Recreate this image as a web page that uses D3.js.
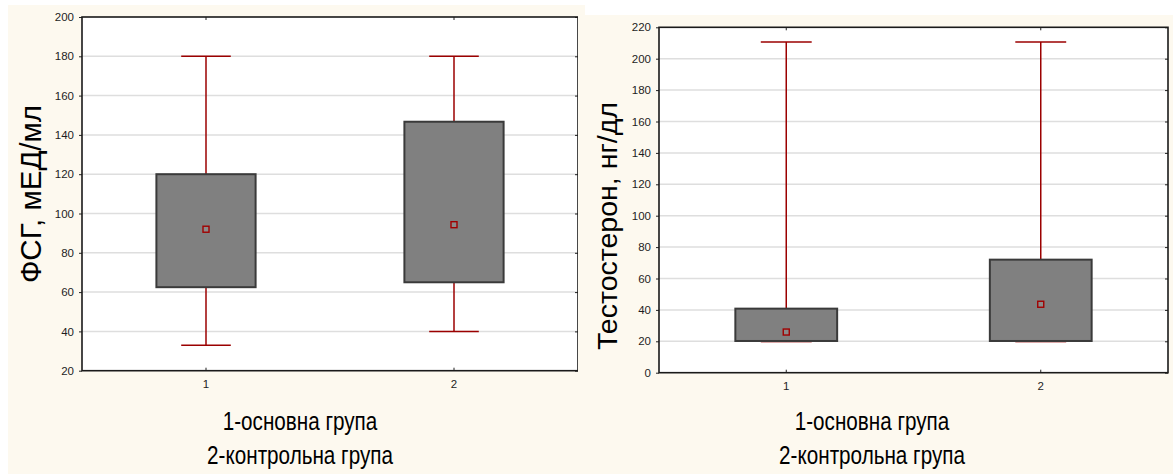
<!DOCTYPE html>
<html>
<head>
<meta charset="utf-8">
<script src="https://cdn.jsdelivr.net/npm/d3@7"></script>
<style>
  html, body { margin: 0; padding: 0; background: #ffffff; }
  svg { display: block; }
  text { font-family: "Liberation Sans", Arial, sans-serif; }
</style>
</head>
<body>
<svg id="chart" width="1173" height="474"></svg>
<script>
// Groups shown on the x axis
const groups = ["1", "2"];
const groupCaption = ["1-основна група", "2-контрольна група"];

// FSH (ФСГ) box-and-whisker summaries per group
const fshMin    = [33, 40];
const fshQ1     = [62.5, 65];
const fshMean   = [92, 94.3];
const fshQ3     = [120, 146.7];
const fshMax    = [180, 180];
const fshTicks  = [20, 40, 60, 80, 100, 120, 140, 160, 180, 200];

// Testosterone box-and-whisker summaries per group
const tMin   = [19.5, 19.5];
const tQ1    = [20.2, 20.2];
const tMean  = [25.9, 43.6];
const tQ3    = [40.8, 72];
const tMax   = [210.7, 210.7];
const tTicks = [0, 20, 40, 60, 80, 100, 120, 140, 160, 180, 200, 220];

const svg = d3.select("#chart");
const cream = "#fdf9ef";

function panel(cfg) {
  const g = svg.append("g");
  // panel background
  g.append("rect")
    .attr("x", cfg.bg[0]).attr("y", cfg.bg[1])
    .attr("width", cfg.bg[2]).attr("height", cfg.bg[3])
    .attr("fill", cream);

  const x = d3.scaleBand().domain(groups).range([cfg.left, cfg.right]).padding(0);
  const y = d3.scaleLinear().domain(cfg.domain).range([cfg.bottom, cfg.top]);

  // plot area
  g.append("rect")
    .attr("x", cfg.left).attr("y", cfg.top)
    .attr("width", cfg.right - cfg.left).attr("height", cfg.bottom - cfg.top)
    .attr("fill", "#ffffff");

  // horizontal grid
  g.append("g").selectAll("line")
    .data(cfg.ticks.filter(t => t !== cfg.domain[0] && t !== cfg.domain[1]))
    .join("line")
    .attr("x1", cfg.left).attr("x2", cfg.right)
    .attr("y1", d => y(d)).attr("y2", d => y(d))
    .attr("stroke", "#dedede").attr("stroke-width", 1.5);

  const bw = x.bandwidth() * 0.4;
  const cw = x.bandwidth() * 0.2;
  const cx = i => x(groups[i]) + x.bandwidth() / 2;
  const idx = groups.map((d, i) => i);
  const whisk = "#9b0000";

  // whiskers (drawn beneath boxes)
  const wg = g.append("g");
  wg.selectAll("line.up").data(idx).join("line").attr("class", "up")
    .attr("x1", cx).attr("x2", cx)
    .attr("y1", i => y(cfg.q3[i])).attr("y2", i => y(cfg.max[i]))
    .attr("stroke", whisk).attr("stroke-width", 1.5);
  wg.selectAll("line.dn").data(idx).join("line").attr("class", "dn")
    .attr("x1", cx).attr("x2", cx)
    .attr("y1", i => y(cfg.q1[i])).attr("y2", i => y(cfg.min[i]))
    .attr("stroke", whisk).attr("stroke-width", 1.5);
  wg.selectAll("line.capHi").data(idx).join("line").attr("class", "capHi")
    .attr("x1", i => cx(i) - cw / 2).attr("x2", i => cx(i) + cw / 2)
    .attr("y1", i => y(cfg.max[i])).attr("y2", i => y(cfg.max[i]))
    .attr("stroke", whisk).attr("stroke-width", 1.5);
  wg.selectAll("line.capLo").data(idx).join("line").attr("class", "capLo")
    .attr("x1", i => cx(i) - cw / 2).attr("x2", i => cx(i) + cw / 2)
    .attr("y1", i => y(cfg.min[i])).attr("y2", i => y(cfg.min[i]))
    .attr("stroke", whisk).attr("stroke-width", 1.5)
    .attr("stroke-opacity", cfg.fadeLowCap ? 0.45 : 1);

  // boxes
  g.append("g").selectAll("rect").data(idx).join("rect")
    .attr("x", i => cx(i) - bw / 2)
    .attr("width", bw)
    .attr("y", i => y(cfg.q3[i]))
    .attr("height", i => y(cfg.q1[i]) - y(cfg.q3[i]))
    .attr("fill", "#808080")
    .attr("stroke", "#3a3a3a").attr("stroke-width", 2);

  // mean markers
  g.append("g").selectAll("rect").data(idx).join("rect")
    .attr("x", i => cx(i) - 3).attr("y", i => y(cfg.mean[i]) - 3)
    .attr("width", 6).attr("height", 6)
    .attr("fill", "#8a8a8a")
    .attr("stroke", "#a00000").attr("stroke-width", 1.4);

  // axes
  const yAxis = d3.axisLeft(y).tickValues(cfg.ticks).tickSize(3).tickPadding(5);
  const ya = g.append("g").attr("transform", `translate(${cfg.left},0)`).call(yAxis);
  ya.select(".domain").remove();
  ya.selectAll(".tick line").attr("stroke", "#222");
  ya.selectAll("text").attr("font-size", 11.5).attr("fill", "#1e1e1e")
    .attr("font-family", "Liberation Sans, Arial, sans-serif");

  const yAxisR = d3.axisLeft(y).tickValues(cfg.ticks).tickSize(3).tickFormat("");
  const yr = g.append("g").attr("transform", `translate(${cfg.right},0)`).call(yAxisR);
  yr.select(".domain").remove();
  yr.selectAll(".tick line").attr("stroke", "#222");

  const xAxis = d3.axisBottom(x).tickSize(-3).tickPadding(9);
  const xa = g.append("g").attr("transform", `translate(0,${cfg.bottom})`).call(xAxis);
  xa.select(".domain").remove();
  xa.selectAll(".tick line").attr("stroke", "#222");
  xa.selectAll("text").attr("font-size", 11.5).attr("fill", "#1e1e1e")
    .attr("font-family", "Liberation Sans, Arial, sans-serif");

  const xTop = d3.axisTop(x).tickSize(-3).tickFormat("");
  const xt = g.append("g").attr("transform", `translate(0,${cfg.top})`).call(xTop);
  xt.select(".domain").remove();
  xt.selectAll(".tick line").attr("stroke", "#222");

  // frame
  g.append("rect")
    .attr("x", cfg.left).attr("y", cfg.top)
    .attr("width", cfg.right - cfg.left).attr("height", cfg.bottom - cfg.top)
    .attr("fill", "none").attr("stroke", "#1a1a1a").attr("stroke-width", 1.6);

  // y title
  g.append("text")
    .attr("transform", `translate(${cfg.titleX},${cfg.titleY}) rotate(-90)`)
    .attr("text-anchor", "middle")
    .attr("font-size", cfg.titleSize)
    .attr("fill", "#000")
    .text(cfg.title);

  // group captions (slightly narrowed glyphs)
  g.append("g").selectAll("text").data(groupCaption).join("text")
    .attr("transform", (d, i) => `translate(${cfg.capX},${cfg.capY + i * 34}) scale(0.78,1)`)
    .attr("text-anchor", "middle")
    .attr("font-size", 26.5)
    .attr("fill", "#000")
    .text(d => d);
}

panel({
  bg: [8, 5, 577, 469],
  left: 82, right: 578, top: 17, bottom: 370.7,
  domain: [20, 200], ticks: fshTicks,
  min: fshMin, q1: fshQ1, mean: fshMean, q3: fshQ3, max: fshMax,
  fadeLowCap: false,
  title: "ФСГ, мЕД/мл", titleX: 41, titleY: 194, titleSize: 29.5,
  capX: 300, capY: 430
});

panel({
  bg: [578, 15, 595, 459],
  left: 659, right: 1168, top: 27.3, bottom: 372.7,
  domain: [0, 220], ticks: tTicks,
  min: tMin, q1: tQ1, mean: tMean, q3: tQ3, max: tMax,
  fadeLowCap: true,
  title: "Тестостерон, нг/дл", titleX: 617, titleY: 226, titleSize: 28.5,
  capX: 872, capY: 430
});
</script>
</body>
</html>
